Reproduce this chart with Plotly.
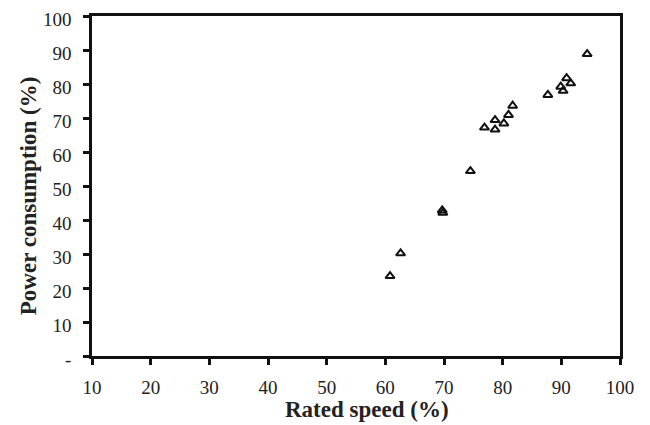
import plotly.graph_objects as go

rated_speed = [60.8, 62.6, 69.7, 69.8, 74.5, 76.9, 78.7, 78.7, 80.2, 81.0, 81.7, 87.7, 89.9, 90.3, 90.9, 91.6, 94.4]
power_consumption = [23.5, 30.2, 42.8, 42.1, 54.4, 67.2, 69.4, 66.6, 68.4, 70.9, 73.6, 76.8, 79.2, 78.0, 81.7, 80.2, 88.8]

x_ticks = [10, 20, 30, 40, 50, 60, 70, 80, 90, 100]
y_ticks = [0, 10, 20, 30, 40, 50, 60, 70, 80, 90, 100]
y_tick_labels = ["-", "10", "20", "30", "40", "50", "60", "70", "80", "90", "100"]
x_title = "Rated speed (%)"
y_title = "Power consumption (%)"

font_family = "Liberation Serif"
tick_font = dict(family=font_family, size=19, color="#222222")
title_font = dict(family=font_family, size=23, color="#222222")

fig = go.Figure()
fig.add_trace(go.Scatter(
    x=rated_speed, y=power_consumption, mode="markers",
    marker=dict(symbol="triangle-up-open", size=8, color="#111111",
                line=dict(width=2, color="#111111")),
    showlegend=False,
))

# page body has an 8px default margin, so the figure is sized/placed to compensate
fig.update_layout(
    width=642, height=417,
    margin=dict(l=84, r=30, t=8, b=69, autoexpand=False),
    paper_bgcolor="white", plot_bgcolor="white",
    font=dict(family=font_family, size=19, color="#222222"),
)
fig.update_xaxes(
    range=[10, 100], tickvals=x_ticks, ticktext=[str(v) for v in x_ticks],
    showgrid=False, zeroline=False, automargin=False,
    showline=True, linewidth=2.5, linecolor="#111111", mirror=True,
    ticks="outside", ticklen=6, tickwidth=2.5, tickcolor="#111111",
    tickfont=tick_font, ticklabelstandoff=6, ticklabeloverflow="allow",
)
fig.update_yaxes(
    range=[0, 100], tickvals=y_ticks, ticktext=y_tick_labels,
    showgrid=False, zeroline=False, automargin=False,
    showline=True, linewidth=2.5, linecolor="#111111", mirror=True,
    ticks="outside", ticklen=6, tickwidth=2.5, tickcolor="#111111",
    tickfont=tick_font, ticklabelstandoff=8, ticklabelshift=3,
    ticklabeloverflow="allow",
)

fig.add_annotation(
    text="<b>" + x_title + "</b>", xref="paper", yref="paper",
    x=0.521, y=0, yshift=-53, xanchor="center", yanchor="middle",
    showarrow=False, font=title_font,
)
fig.add_annotation(
    text="<b>" + y_title + "</b>", xref="paper", yref="paper",
    x=0, y=0.47, xshift=-64, xanchor="center", yanchor="middle",
    textangle=-90, showarrow=False, font=title_font,
)

fig.write_html("out.html")
